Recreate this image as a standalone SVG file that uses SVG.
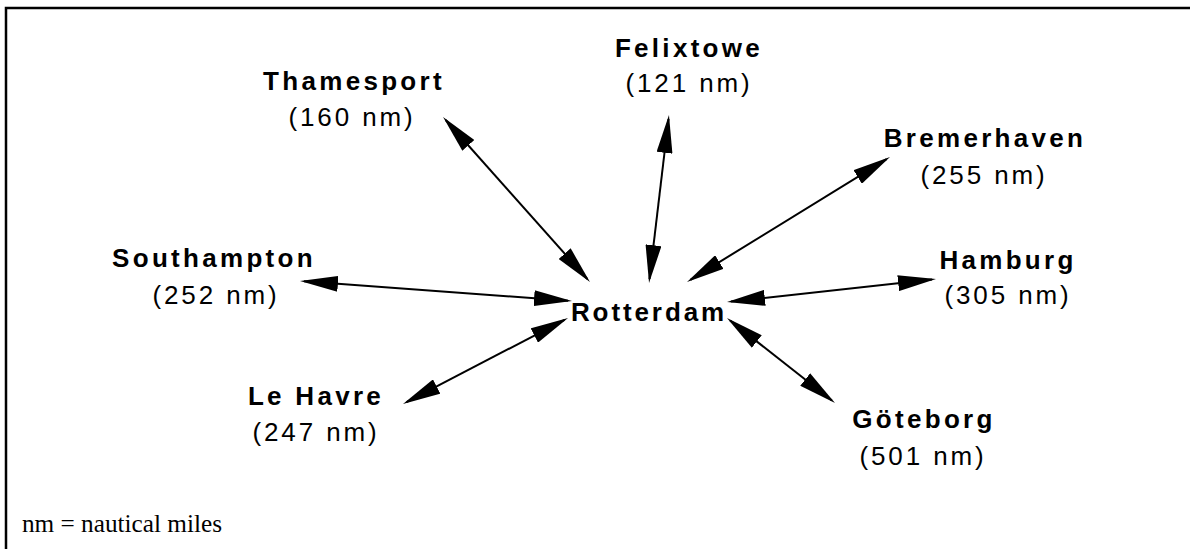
<svg xmlns="http://www.w3.org/2000/svg" width="1190" height="549" viewBox="0 0 1190 549">
  <style>
    .port { font-family: "Liberation Sans", Arial, sans-serif; font-size: 26px; font-weight: bold; letter-spacing: 3.3px; fill: #000; text-anchor: middle; }
    .dist { font-family: "Liberation Sans", Arial, sans-serif; font-size: 26px; letter-spacing: 2.9px; fill: #000; text-anchor: middle; }
    .hub { font-family: "Liberation Sans", Arial, sans-serif; font-size: 26px; font-weight: bold; letter-spacing: 2.9px; fill: #000; text-anchor: middle; }
    .note { font-family: "Liberation Serif", "Times New Roman", serif; font-size: 25px; fill: #000; }
    .link { stroke: #000; stroke-width: 2; fill: none; marker-start: url(#head); marker-end: url(#head); }
  </style>
  <defs>
    <marker id="head" viewBox="0 0 38 16" refX="34" refY="8" markerWidth="38" markerHeight="16" markerUnits="userSpaceOnUse" orient="auto-start-reverse">
      <path d="M0,0 L38,8 L0,16 Z" fill="#000"/>
    </marker>
  </defs>

  <rect width="1190" height="549" fill="#fff"/>
  <!-- frame, open to the right and bottom -->
  <rect x="6" y="8" width="1250" height="600" fill="none" stroke="#000" stroke-width="2.5"/>

  <g id="connectors">
    <line class="link" x1="445.7" y1="120" x2="587.3" y2="279"/>
    <line class="link" x1="668.5" y1="119" x2="649.5" y2="279"/>
    <line class="link" x1="886.6" y1="159.1" x2="690.4" y2="279.9"/>
    <line class="link" x1="304" y1="281.3" x2="568" y2="300.7"/>
    <line class="link" x1="406.5" y1="402.2" x2="564.5" y2="319.8"/>
    <line class="link" x1="731" y1="301.6" x2="932" y2="279.4"/>
    <line class="link" x1="730.1" y1="320.5" x2="831.9" y2="400.5"/>
  </g>

  <g id="rotterdam">
    <text class="hub" x="649" y="321">Rotterdam</text>
  </g>
  <g id="felixtowe">
    <text class="port" x="689" y="57">Felixtowe</text>
    <text class="dist" x="689" y="92">(121 nm)</text>
  </g>
  <g id="thamesport">
    <text class="port" x="354" y="90">Thamesport</text>
    <text class="dist" x="352" y="126">(160 nm)</text>
  </g>
  <g id="bremerhaven">
    <text class="port" x="985" y="147">Bremerhaven</text>
    <text class="dist" x="984" y="184">(255 nm)</text>
  </g>
  <g id="southampton">
    <text class="port" x="214" y="267">Southampton</text>
    <text class="dist" x="216" y="304">(252 nm)</text>
  </g>
  <g id="hamburg">
    <text class="port" x="1008" y="269">Hamburg</text>
    <text class="dist" x="1008" y="304">(305 nm)</text>
  </g>
  <g id="lehavre">
    <text class="port" x="316" y="405">Le Havre</text>
    <text class="dist" x="316" y="441">(247 nm)</text>
  </g>
  <g id="goteborg">
    <text class="port" x="924" y="428">Göteborg</text>
    <text class="dist" x="923" y="465">(501 nm)</text>
  </g>

  <text class="note" x="22" y="532" textLength="200" lengthAdjust="spacingAndGlyphs">nm = nautical miles</text>
</svg>
